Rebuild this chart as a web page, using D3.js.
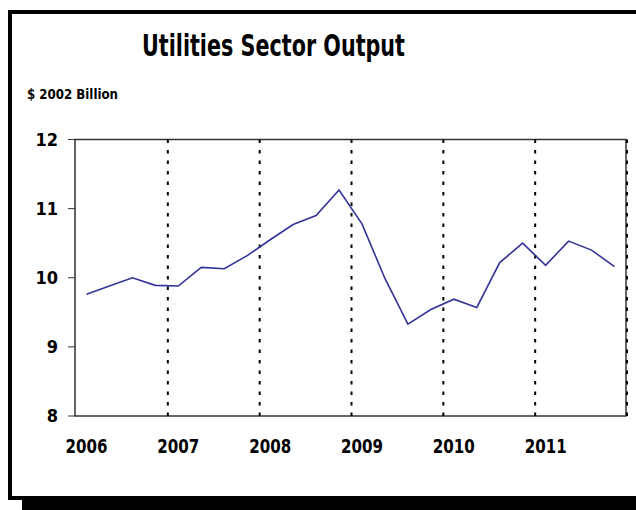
<!DOCTYPE html>
<html>
<head>
<meta charset="utf-8">
<script src="https://cdn.jsdelivr.net/npm/d3@7"></script>
<style>
  body { margin: 0; background: #fff; }
  text { font-family: "DejaVu Sans Condensed", "Liberation Sans Narrow", sans-serif; font-weight: bold; }
</style>
</head>
<body>
<div id="chart"></div>
<script>
// quarterly data, 2006 Q1 .. 2011 Q4
var years = ["2006", "2007", "2008", "2009", "2010", "2011"];
var quarters = ["2006Q1","2006Q2","2006Q3","2006Q4","2007Q1","2007Q2","2007Q3","2007Q4",
  "2008Q1","2008Q2","2008Q3","2008Q4","2009Q1","2009Q2","2009Q3","2009Q4",
  "2010Q1","2010Q2","2010Q3","2010Q4","2011Q1","2011Q2","2011Q3","2011Q4"];
var output = [9.76, 9.88, 10.00, 9.89, 9.88, 10.15, 10.13, 10.32,
  10.55, 10.77, 10.90, 11.27, 10.78, 9.99, 9.33, 9.54,
  9.69, 9.57, 10.22, 10.50, 10.18, 10.53, 10.40, 10.16];
var yTicks = [8, 9, 10, 11, 12];

var width = 636,
  height = 510;

var svg = d3.select("#chart").append("svg")
  .attr("width", width)
  .attr("height", height);

// frame with drop shadow
svg.append("rect")
  .attr("x", 22).attr("y", 24)
  .attr("width", 700).attr("height", 486)
  .style("fill", "#000");
svg.append("rect")
  .attr("x", 10).attr("y", 12)
  .attr("width", 700).attr("height", 486)
  .style("fill", "#fff")
  .style("stroke", "#000")
  .style("stroke-width", 4);

svg.append("text")
  .attr("x", 142).attr("y", 56)
  .attr("textLength", 263)
  .attr("lengthAdjust", "spacingAndGlyphs")
  .style("font-size", "30px")
  .text("Utilities Sector Output");

svg.append("text")
  .attr("x", 27).attr("y", 99)
  .attr("textLength", 91)
  .attr("lengthAdjust", "spacingAndGlyphs")
  .style("font-size", "14.5px")
  .text("$ 2002 Billion");

var x0 = 75, x1 = 626, yTop = 139.5, yBot = 416;

var x = d3.scaleBand()
  .domain(quarters)
  .range([x0, x1]);

var y = d3.scaleLinear()
  .domain([8, 12])
  .range([yBot, yTop]);

var g = svg.append("g");

// plot area border
g.append("rect")
  .attr("x", x0).attr("y", yTop)
  .attr("width", x1 - x0).attr("height", yBot - yTop)
  .style("fill", "none")
  .style("stroke", "#333")
  .style("stroke-width", 1.5);

// dotted year separators
g.selectAll(".sep")
  .data(years)
  .enter()
  .append("line")
  .attr("class", "sep")
  .attr("x1", function(d) { return x(d + "Q4") + x.bandwidth() + 1; })
  .attr("x2", function(d) { return x(d + "Q4") + x.bandwidth() + 1; })
  .attr("y1", yTop)
  .attr("y2", yBot)
  .style("stroke", "#000")
  .style("stroke-width", 2)
  .style("stroke-dasharray", "3.5,7");

// y axis ticks and labels
g.selectAll(".ytick")
  .data(yTicks)
  .enter()
  .append("line")
  .attr("x1", x0 - 7).attr("x2", x0)
  .attr("y1", function(d) { return y(d); })
  .attr("y2", function(d) { return y(d); })
  .style("stroke", "#333")
  .style("stroke-width", 1);

g.selectAll(".ylabel")
  .data(yTicks)
  .enter()
  .append("text")
  .attr("x", 58)
  .attr("y", function(d) { return y(d); })
  .attr("dy", "0.36em")
  .attr("text-anchor", "end")
  .style("font-size", "18px")
  .text(function(d) { return d; });

// x labels at first quarter of each year
g.selectAll(".xlabel")
  .data(years)
  .enter()
  .append("text")
  .attr("x", function(d) { return x(d + "Q1") + x.bandwidth() / 2 - 21; })
  .attr("y", 453)
  .attr("textLength", 42)
  .attr("lengthAdjust", "spacingAndGlyphs")
  .style("font-size", "19px")
  .text(function(d) { return d; });

var line = d3.line()
  .x(function(d, i) { return x(quarters[i]) + x.bandwidth() / 2; })
  .y(function(d) { return y(d); });

g.append("path")
  .datum(output)
  .attr("d", line)
  .style("fill", "none")
  .style("stroke", "#333399")
  .style("stroke-width", 1.6);
</script>
</body>
</html>
